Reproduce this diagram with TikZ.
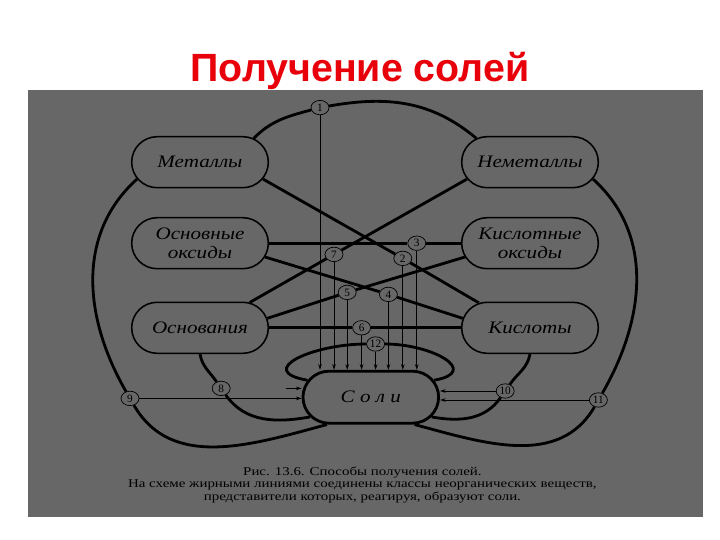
\documentclass[tikz,border=0pt]{standalone}
\usepackage{fontspec}
\setmainfont{Liberation Serif}
\newfontfamily\titlefont{Liberation Sans}
\newfontfamily\classfont[FakeStretch=1.2]{Liberation Serif}
\newfontfamily\notefont[FakeStretch=1.25]{Liberation Serif}
\usepackage{tikz}
\usetikzlibrary{shapes.misc, shapes.geometric, arrows.meta}
\definecolor{panelgray}{RGB}{103,103,103}
\definecolor{titlered}{RGB}{232,0,10}

\begin{document}
\begin{tikzpicture}[
  klass/.style={rounded rectangle, draw, line width=1.1pt, fill=panelgray, minimum width=3.65cm, minimum height=1.275cm, align=center, font=\classfont\itshape\fontsize{12.5}{14}\selectfont},
  num/.style={ellipse, draw, line width=0.5pt, fill=panelgray, minimum width=0.45cm, minimum height=0.36cm, inner sep=0.2pt, font=\fontsize{8}{8}\selectfont},
  bond/.style={line width=2pt},
  feed/.style={line width=0.6pt, -{Stealth[length=4pt,width=2.6pt]}}
]
\useasboundingbox (0,0) rectangle (18,13.5);
\fill[white] (0,0) rectangle (18,13.5);
\fill[panelgray] (0.7,0.575) rectangle (17.575,11.25);

\node[anchor=base, text=titlered, font=\titlefont\bfseries\fontsize{28}{30}\selectfont] (title) at (9,11.45) {Получение солей};

% classes
\node[klass] (met) at (5,9.445) {Металлы};
\node[klass] (nem) at (13.25,9.445) {Неметаллы};
\node[klass] (osok) at (5,7.42) {Основные\\оксиды};
\node[klass] (kisok) at (13.25,7.42) {Кислотные\\оксиды};
\node[klass] (osn) at (5,5.305) {Основания};
\node[klass] (kis) at (13.25,5.305) {Кислоты};
\node[klass, line width=2pt, minimum width=3.625cm, minimum height=1.3cm] (soli) at (9.27,3.57) {С о л и};

% ways
\node[num] (c1) at (8.0,10.81) {1};
\node[num] (c2) at (10.07,7.04) {2};
\node[num] (c3) at (10.42,7.42) {3};
\node[num] (c4) at (9.71,6.14) {4};
\node[num] (c5) at (8.68,6.19) {5};
\node[num] (c6) at (9.04,5.305) {6};
\node[num] (c7) at (8.35,7.14) {7};
\node[num] (c8) at (5.53,3.79) {8};
\node[num] (c9) at (3.25,3.54) {9};
\node[num] (c10) at (12.63,3.725) {10};
\node[num] (c11) at (14.96,3.5) {11};
\node[num] (c12) at (9.39,4.9) {12};

\draw[bond] (met.24) to[out=45, in=195] (c1) to[out=10, in=140] (nem.156);
\draw[bond] (met.-15) -- (c2) -- (kis.154);
\draw[bond] (nem.195) -- (c7) -- (osn.27);
\draw[bond] (osok.east) -- (c3) -- (kisok.west);
\draw[bond] (osok.-12) -- (c4) -- (kis.172);
\draw[bond] (kisok.192) -- (c5) -- (osn.8);
\draw[bond] (osn.east) -- (c6) -- (kis.west);
\draw[bond] (soli.165) to[out=170, in=180, looseness=2] (c12) to[out=0, in=10, looseness=2] (soli.15);
\draw[bond] (osn.south) to[out=-80, in=125] (c8) to[out=-55, in=190] (soli.198);
\draw[bond] (kis.south) to[out=-100, in=55] (c10) to[out=-125, in=-10] (soli.-18);
\draw[bond] (met.195) to[out=222, in=120] (c9) to[out=-60, in=195] (soli.212);
\draw[bond] (nem.-15) to[out=-42, in=60] (c11) to[out=-120, in=-15] (soli.-32);

\draw[feed] (c1) -- (c1 |- soli.north);
\draw[feed] (c7) -- (c7 |- soli.north);
\draw[feed] (c5) -- (c5 |- soli.north);
\draw[feed] (c6) -- (c6 |- soli.north);
\draw[feed] (c12) -- (c12 |- soli.north);
\draw[feed] (c4) -- (c4 |- soli.north);
\draw[feed] (c2) -- (c2 |- soli.north);
\draw[feed] (c3) -- (c3 |- soli.north);
\coordinate (tick8) at (7.15,3.79);
\draw[feed] (tick8) -- (tick8 -| soli.west);
\draw[feed] (c9) -- (c9 -| soli.west);
\draw[feed] (c10) -- (c10 -| soli.east);
\draw[feed] (c11) -- (c11 -| soli.east);

\node[font=\notefont\fontsize{8.5}{9.1}\selectfont, align=center] (note) at (9.06,1.375) {Рис. 13.6. Способы получения солей.\\На схеме жирными линиями соединены классы неорганических веществ,\\представители которых, реагируя, образуют соли.};
\end{tikzpicture}
\end{document}
